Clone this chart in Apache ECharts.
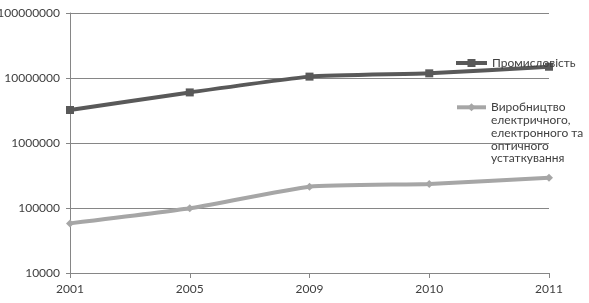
<!DOCTYPE html>
<html>
<head>
<meta charset="utf-8">
<script src="https://cdn.jsdelivr.net/npm/echarts@6/dist/echarts.min.js"></script>
<style>
html,body{margin:0;padding:0;background:#fff;}
#c{width:589px;height:303px;}
</style>
</head>
<body>
<div id="c"></div>
<script>
const categories = ['2001', '2005', '2009', '2010', '2011'];
const seriesNames = ['Промисловість', 'Виробництво електричного, електронного та оптичного устаткування'];
const legendLabels = ['Промисловість', 'Виробництво\nелектричного,\nелектронного та\nоптичного\nустаткування'];
const industry = [3220000, 6000000, 10500000, 11800000, 14900000];
const electrical = [58000, 99000, 213000, 234000, 292000];
const yMin = 10000;
const yMax = 100000000;

const font = "Lato, 'Noto Sans', sans-serif";
const chart = echarts.init(document.getElementById('c'), null, {renderer: 'canvas'});
chart.setOption({
  animation: false,
  backgroundColor: '#ffffff',
  grid: {left: 70, right: 40, top: 13, bottom: 30, containLabel: false, outerBoundsMode: 'none'},
  xAxis: {
    type: 'category',
    data: categories,
    boundaryGap: false,
    axisLine: {show: true, lineStyle: {color: '#868686', width: 1}},
    axisTick: {show: true, length: 5, lineStyle: {color: '#868686'}},
    axisLabel: {color: '#404040', fontFamily: font, fontSize: 12, margin: 10}
  },
  yAxis: {
    type: 'log',
    logBase: 10,
    min: yMin,
    max: yMax,
    axisLine: {show: true, lineStyle: {color: '#868686', width: 1}},
    axisTick: {show: true, length: 4, lineStyle: {color: '#868686'}},
    axisLabel: {color: '#404040', fontFamily: font, fontSize: 12, margin: 10,
      formatter: v => String(Math.round(v))},
    splitLine: {show: true, lineStyle: {color: '#868686', width: 1}},
    minorTick: {show: false}
  },
  legend: [
    {
      data: [seriesNames[0]],
      left: 454, top: 56, padding: 0,
      itemWidth: 31, itemHeight: 10,
      lineStyle: {width: 4},
      formatter: () => legendLabels[0],
      textStyle: {color: '#404040', fontFamily: font, fontSize: 12, lineHeight: 14}
    },
    {
      data: [seriesNames[1]],
      left: 455, top: 49.7, padding: 0,
      itemWidth: 29, itemHeight: 10,
      lineStyle: {width: 4},
      formatter: () => '\n\n\n\n' + legendLabels[1],
      textStyle: {color: '#404040', fontFamily: font, fontSize: 12, lineHeight: 12.8}
    }
  ],
  series: [
    {
      name: seriesNames[0],
      type: 'line',
      data: industry,
      smooth: 0.15,
      symbol: 'rect',
      symbolSize: 8,
      itemStyle: {color: '#595959'},
      lineStyle: {color: '#595959', width: 4}
    },
    {
      name: seriesNames[1],
      type: 'line',
      data: electrical,
      smooth: 0.15,
      symbol: 'diamond',
      symbolSize: 8,
      itemStyle: {color: '#a6a6a6'},
      lineStyle: {color: '#a6a6a6', width: 4}
    }
  ]
});
</script>
</body>
</html>
